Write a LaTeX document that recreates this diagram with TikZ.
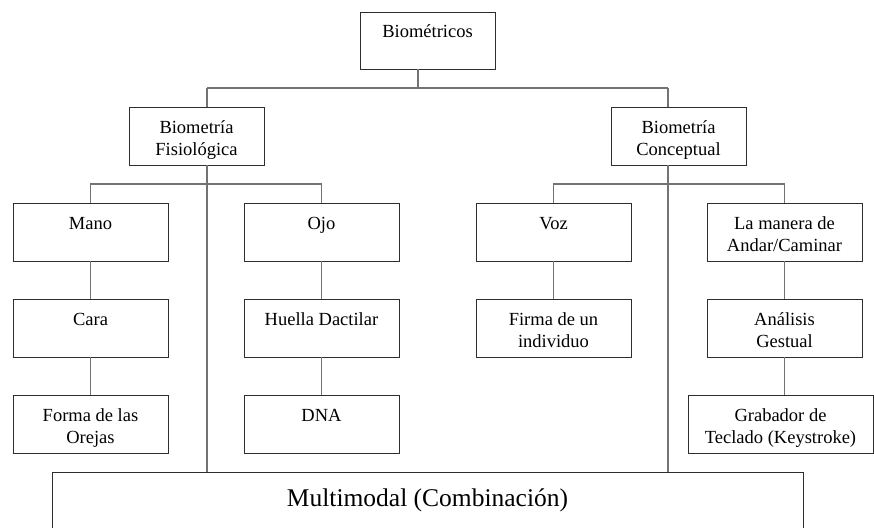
\documentclass[tikz,border=0pt]{standalone}
\usepackage{fontspec}
\setmainfont{Liberation Serif}
% Box label: fixed-size parbox, text hanging from the top edge
\newcommand\toplabel[3]{\parbox[t][#2][t]{#1}{\centering
  \fontsize{18.5}{22}\selectfont\vspace*{9pt}\rule{0pt}{17pt}#3\par}}
\newcommand\biglabel[3]{\parbox[t][#2][t]{#1}{\centering
  \fontsize{25.5}{30}\selectfont\vspace*{10pt}\rule{0pt}{24pt}#3\par}}
\begin{document}
\begin{tikzpicture}[x=1pt,y=-1pt,
  bx/.style={draw=black!82, line width=0.95pt, inner sep=0pt, fill=white},
  wire/.style={draw=black!55, line width=1.7pt}]
\useasboundingbox (0,0) rectangle (874,527);
\clip (0,0) rectangle (874,527);

% junction points of the bus lines
\coordinate (jTop) at (418,88);
\coordinate (jL) at (207,88);
\coordinate (jR) at (668,88);
\coordinate (busY) at (0,184);

% boxes
\path (427.5,40.5) node[bx] (top) {\toplabel{135pt}{57pt}{Biométricos}};
\path (196.5,136) node[bx] (fis) {\toplabel{135pt}{58pt}{Biometría\\Fisiológica}};
\path (678.5,136) node[bx] (con) {\toplabel{135pt}{58pt}{Biometría\\Conceptual}};

\path (90.5,232)  node[bx] (mano)   {\toplabel{155pt}{58pt}{Mano}};
\path (321.5,232) node[bx] (ojo)    {\toplabel{155pt}{58pt}{Ojo}};
\path (553.5,232) node[bx] (voz)    {\toplabel{155pt}{58pt}{Voz}};
\path (784.5,232) node[bx] (manera) {\toplabel{155pt}{58pt}{La manera de\\Andar/Caminar}};

\path (90.5,328)  node[bx] (cara)     {\toplabel{155pt}{58pt}{Cara}};
\path (321.5,328) node[bx] (huella)   {\toplabel{155pt}{58pt}{Huella Dactilar}};
\path (553.5,328) node[bx] (firma)    {\toplabel{155pt}{58pt}{Firma de un\\individuo}};
\path (784.5,328) node[bx] (analisis) {\toplabel{155pt}{58pt}{Análisis\\Gestual}};

\path (90.5,424)  node[bx] (forma)    {\toplabel{155pt}{58pt}{Forma de las\\Orejas}};
\path (321.5,424) node[bx] (dna)      {\toplabel{155pt}{58pt}{DNA}};
\path (780.5,424) node[bx] (grabador) {\toplabel{185pt}{58pt}{Grabador de\\Teclado (Keystroke)}};

\path (427.5,512) node[bx] (multi) {\biglabel{751pt}{80pt}{Multimodal (Combinación)}};

% top level
\draw[wire] (top.south -| jTop) -- (jTop);
\draw[wire] (jL) -- (jR);
\draw[wire] (jL) -- (fis.north -| jL);
\draw[wire] (jR) -- (con.north -| jR);
% long drops into the combined box
\draw[wire] (fis.south -| jL) -- (multi.north -| jL);
\draw[wire] (con.south -| jR) -- (multi.north -| jR);
% second-level buses
\draw[wire] (mano.north) |- (ojo.north |- busY) -- (ojo.north);
\draw[wire] (voz.north) |- (manera.north |- busY) -- (manera.north);
% columns
\draw[wire] (mano.south) -- (cara.north);
\draw[wire] (cara.south) -- (forma.north);
\draw[wire] (ojo.south) -- (huella.north);
\draw[wire] (huella.south) -- (dna.north);
\draw[wire] (voz.south) -- (firma.north);
\draw[wire] (manera.south) -- (analisis.north);
\draw[wire] (analisis.south) -- (analisis.south |- grabador.north);
\end{tikzpicture}
\end{document}
